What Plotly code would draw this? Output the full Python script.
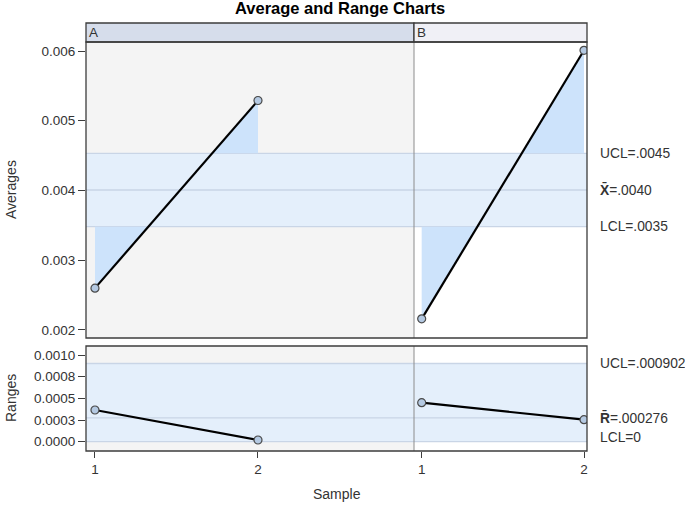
import plotly.graph_objects as go

# ---------------- data ----------------
phases = ["A", "B"]
samples_A = [1, 2]
samples_B = [1, 2]
averages_A = [0.00260, 0.00529]
averages_B = [0.00216, 0.00601]
ranges_A = [0.000366, 0.000020]
ranges_B = [0.000450, 0.000254]

x_ucl, x_center, x_lcl = 0.004533, 0.004007, 0.003481
r_ucl, r_center, r_lcl = 0.000902, 0.000276, 0.0
x_labels = ["UCL=.0045", "<b>X\u0304</b>=.0040", "LCL=.0035"]
r_labels = ["UCL=.000902", "<b>R\u0304</b>=.000276", "LCL=0"]

avg_ticks = [0.002, 0.003, 0.004, 0.005, 0.006]
avg_ticktext = ["0.002", "0.003", "0.004", "0.005", "0.006"]
rng_ticks = [0.0, 0.00025, 0.0005, 0.00075, 0.001]
rng_ticktext = ["0.0000", "0.0003", "0.0005", "0.0008", "0.0010"]

# ---------------- layout geometry ----------------
W, H = 685, 505
def px(x): return x / W
def py(y): return 1 - y / H

xA = [px(86), px(414)]
xB = [px(414), px(587)]
yTop = [py(338), py(42)]
yBot = [py(451), py(346)]

FONT = "Liberation Sans, Arial, sans-serif"
TXT = "#333333"
BAND = "#e4effb"
LIMIT = "#c9d5e6"
FILLOUT = "#cde3fb"
GRAYBG = "#f4f4f4"

fig = go.Figure()


def out_of_limit_polys(xs, ys, ucl, lcl):
    """Polygons between the line and the violated limit (SAS style)."""
    polys = []
    for i in range(len(xs) - 1):
        x1, y1, x2, y2 = xs[i], ys[i], xs[i + 1], ys[i + 1]
        for lim, above in ((ucl, True), (lcl, False)):
            o1 = y1 > lim if above else y1 < lim
            o2 = y2 > lim if above else y2 < lim
            if o1 and o2:
                polys.append(([x1, x1, x2, x2, x1], [lim, y1, y2, lim, lim]))
            elif o1 or o2:
                xc = x1 + (lim - y1) * (x2 - x1) / (y2 - y1)
                if o1:
                    polys.append(([x1, x1, xc, x1], [lim, y1, lim, lim]))
                else:
                    polys.append(([xc, x2, x2, xc], [lim, y2, lim, lim]))
    return polys


def add_series(xs, ys, xa, ya, ucl, lcl):
    for px_, py_ in out_of_limit_polys(xs, ys, ucl, lcl):
        fig.add_trace(go.Scatter(x=px_, y=py_, xaxis=xa, yaxis=ya, mode="lines",
                                 fill="toself", fillcolor=FILLOUT,
                                 line=dict(width=0), hoverinfo="skip", showlegend=False))
    fig.add_trace(go.Scatter(x=xs, y=ys, xaxis=xa, yaxis=ya, mode="lines+markers",
                             line=dict(color="black", width=2.2),
                             marker=dict(size=8, color="#b4c9e2",
                                         line=dict(color="#4a4a4a", width=1.2)),
                             showlegend=False))


add_series(samples_A, averages_A, "x", "y", x_ucl, x_lcl)
add_series(samples_B, averages_B, "x2", "y2", x_ucl, x_lcl)
add_series(samples_A, ranges_A, "x3", "y3", r_ucl, r_lcl)
add_series(samples_B, ranges_B, "x4", "y4", r_ucl, r_lcl)

shapes = []
for xr, yr, col in (("x", "y", GRAYBG), ("x2", "y2", "white"),
                    ("x3", "y3", GRAYBG), ("x4", "y4", "white")):
    shapes.append(dict(type="rect", xref=xr + " domain", yref=yr + " domain",
                       x0=0, x1=1, y0=0, y1=1, fillcolor=col, line=dict(width=0),
                       layer="below"))
for xr, yr, ucl, cen, lcl in (("x", "y", x_ucl, x_center, x_lcl),
                              ("x2", "y2", x_ucl, x_center, x_lcl),
                              ("x3", "y3", r_ucl, r_center, r_lcl),
                              ("x4", "y4", r_ucl, r_center, r_lcl)):
    shapes.append(dict(type="rect", xref=xr + " domain", yref=yr, x0=0, x1=1,
                       y0=lcl, y1=ucl, fillcolor=BAND, line=dict(width=0), layer="below"))
    for v in (ucl, cen, lcl):
        shapes.append(dict(type="line", xref=xr + " domain", yref=yr, x0=0, x1=1,
                           y0=v, y1=v, line=dict(color=LIMIT, width=1.3), layer="below"))

for yd in (yTop, yBot):
    shapes.append(dict(type="line", xref="paper", yref="paper", x0=xB[0], x1=xB[0],
                       y0=yd[0], y1=yd[1], line=dict(color="#8c8c8c", width=1)))
hdr = [py(42), py(23)]
shapes.append(dict(type="rect", xref="paper", yref="paper", x0=xA[0], x1=xA[1],
                   y0=hdr[0], y1=hdr[1], fillcolor="#d6ddeb",
                   line=dict(color="#3c3c3c", width=1.3)))
shapes.append(dict(type="rect", xref="paper", yref="paper", x0=xB[0], x1=xB[1],
                   y0=hdr[0], y1=hdr[1], fillcolor="#f0f0f6",
                   line=dict(color="#3c3c3c", width=1.3)))
for yd in (yTop, yBot):
    shapes.append(dict(type="rect", xref="paper", yref="paper", x0=xA[0], x1=xB[1],
                       y0=yd[0], y1=yd[1], line=dict(color="#3c3c3c", width=1.3)))

annotations = []
annotations.append(dict(text="<b>Average and Range Charts</b>", xref="paper", yref="paper",
                        x=px(340), y=py(8), xanchor="center", yanchor="middle",
                        showarrow=False, font=dict(size=16.5, color="black", family=FONT)))
for name, xd in zip(phases, (xA, xB)):
    annotations.append(dict(text=name, xref="paper", yref="paper", x=xd[0] + 1 / W,
                            y=(hdr[0] + hdr[1]) / 2, xanchor="left", yanchor="middle",
                            showarrow=False, font=dict(size=13.5, color=TXT, family=FONT)))
LABFONT = dict(size=13.8, color=TXT, family=FONT)
for lab, v in zip(x_labels, (x_ucl, x_center, x_lcl)):
    annotations.append(dict(text=lab, xref="paper", yref="y2", x=px(598), y=v,
                            xanchor="left", yanchor="middle", showarrow=False, font=LABFONT))
for lab, v, sh in zip(r_labels, (r_ucl, r_center, r_lcl), (0, 0, 4)):
    annotations.append(dict(text=lab, xref="paper", yref="y4", x=px(598), y=v, yshift=sh,
                            xanchor="left", yanchor="middle", showarrow=False, font=LABFONT))
annotations.append(dict(text="Sample", xref="paper", yref="paper", x=px(337), y=py(494),
                        xanchor="center", yanchor="middle", showarrow=False,
                        font=dict(size=14, color=TXT, family=FONT)))
annotations.append(dict(text="Averages", xref="paper", yref="paper", x=px(11), y=py(190),
                        xanchor="center", yanchor="middle", textangle=-90, showarrow=False,
                        font=dict(size=14, color=TXT, family=FONT)))
annotations.append(dict(text="Ranges", xref="paper", yref="paper", x=px(11), y=py(398),
                        xanchor="center", yanchor="middle", textangle=-90, showarrow=False,
                        font=dict(size=14, color=TXT, family=FONT)))

tickfont = dict(size=13.5, color=TXT, family=FONT)
common_x = dict(showgrid=False, zeroline=False, tickvals=[1, 2], ticktext=["1", "2"],
                ticks="outside", ticklen=6, tickcolor="#3c3c3c", tickfont=tickfont)

fig.update_layout(
    width=W, height=H,
    margin=dict(l=0, r=0, t=0, b=0),
    paper_bgcolor="white", plot_bgcolor="white",
    font=dict(family=FONT, color=TXT),
    showlegend=False,
    shapes=shapes, annotations=annotations,
    xaxis=dict(domain=xA, anchor="y", range=[0.945, 2.957], showticklabels=False,
               showgrid=False, zeroline=False, ticks=""),
    xaxis2=dict(domain=xB, anchor="y2", range=[0.9526, 2.0185], showticklabels=False,
                showgrid=False, zeroline=False, ticks=""),
    xaxis3=dict(domain=xA, anchor="y3", range=[0.945, 2.957], **common_x),
    xaxis4=dict(domain=xB, anchor="y4", range=[0.9526, 2.0185], **common_x),
    yaxis=dict(domain=yTop, anchor="x", range=[0.001885, 0.006129],
               tickvals=avg_ticks, ticktext=avg_ticktext, ticks="outside", ticklen=7,
               tickcolor="#3c3c3c", tickfont=tickfont, showgrid=False, zeroline=False),
    yaxis2=dict(domain=yTop, anchor="x2", range=[0.001885, 0.006129], showticklabels=False,
                showgrid=False, zeroline=False, ticks=""),
    yaxis3=dict(domain=yBot, anchor="x3", range=[-0.000107, 0.001104],
                tickvals=rng_ticks, ticktext=rng_ticktext, ticks="outside", ticklen=7,
                tickcolor="#3c3c3c", tickfont=tickfont, showgrid=False, zeroline=False),
    yaxis4=dict(domain=yBot, anchor="x4", range=[-0.000107, 0.001104], showticklabels=False,
                showgrid=False, zeroline=False, ticks=""),
)

fig.write_html("out.html", config={"displayModeBar": False},
               post_script="document.body.style.margin='0px';"
                           "document.body.style.overflow='hidden';")
